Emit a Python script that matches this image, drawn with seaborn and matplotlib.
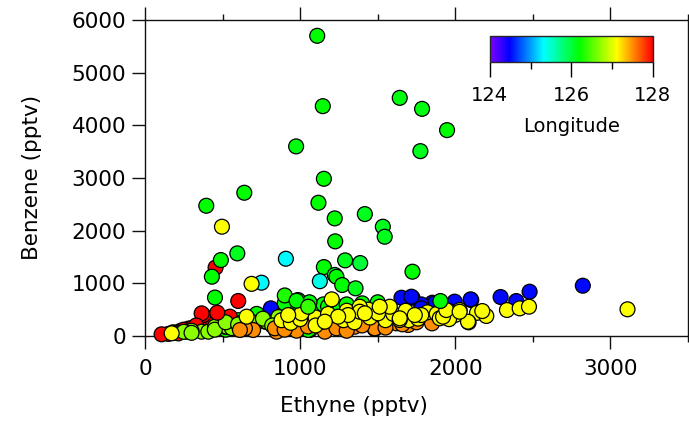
import numpy as np
import pandas as pd
import matplotlib
matplotlib.use("Agg")
import matplotlib.pyplot as plt
import seaborn as sns
from matplotlib.colors import LinearSegmentedColormap, Normalize
from matplotlib.cm import ScalarMappable
from matplotlib.ticker import MultipleLocator, FixedLocator

# ---- data: (ethyne pptv, benzene pptv), one list per colour ----
# low band, drawn first (underneath)
band_green = [(901, 398), (987, 683), (1062, 114), (1084, 461), (1052, 114), (420, 250),
              (480, 300), (550, 280), (700, 330), (850, 450), (350, 180), (600, 300),
              (800, 380), (950, 550), (1000, 480), (1120, 520), (1150, 600), (1180, 560),
              (1260, 550), (1300, 600), (1400, 620), (1500, 640), (1060, 640), (900, 620),
              (720, 420), (780, 300), (960, 350), (1030, 250), (640, 180), (520, 120)]
band_blue = [(2822, 955), (2479, 841), (2292, 740), (2393, 664), (2103, 683), (1992, 632),
             (1852, 632), (1653, 727), (1724, 727), (1996, 652), (2099, 696), (1867, 620),
             (1781, 600), (811, 525), (1717, 746), (1781, 525)]
band_red = [(150, 40), (180, 70), (230, 100), (280, 140), (320, 120), (400, 230), (440, 260),
            (500, 330), (376, 398), (365, 430), (547, 367), (300, 150), (330, 200), (250, 120),
            (107, 32), (204, 63), (268, 82), (215, 50)]
band_yelgreen = [(365, 82), (408, 82), (451, 177), (515, 177), (526, 177), (708, 241),
                 (773, 272), (784, 272), (300, 100), (560, 150), (250, 80), (300, 60),
                 (620, 250), (680, 280), (860, 360), (1180, 250), (1050, 380), (1846, 317),
                 (450, 120), (520, 260), (600, 220), (760, 330), (820, 200)]
band_orange = [(1481, 133), (1696, 209), (1620, 241), (1245, 177), (1159, 82), (1659, 222),
               (1481, 146), (1352, 177), (1234, 146), (1148, 272), (977, 101), (848, 82),
               (697, 114), (644, 146), (612, 114), (837, 146), (900, 120), (1050, 180),
               (1300, 100), (1400, 200), (1550, 160), (1750, 260), (1850, 240)]
band_yellow = [(880, 300), (940, 250), (1000, 320), (1100, 350), (1180, 420), (1280, 300),
               (1350, 260), (1450, 350), (1550, 300), (1600, 420), (1700, 300), (1820, 450),
               (1880, 420), (2000, 400), (2140, 440), (2200, 380), (1100, 200), (1300, 480),
               (1440, 500), (1680, 480), (1760, 330),
               (3110, 507), (2333, 493), (2415, 525), (2475, 557), (2174, 474), (2086, 259),
               (1960, 474), (2028, 493), (1900, 336), (1960, 320), (1781, 398), (1921, 367),
               (2082, 272), (1942, 493), (2028, 461), (1642, 304), (1739, 398), (1642, 336),
               (1578, 556), (1502, 430), (1384, 556), (1513, 556), (1384, 461), (1417, 430),
               (1309, 398), (1245, 367), (1159, 272), (1009, 430), (923, 398), (655, 367),
               (172, 51), (1204, 696)]
band_green_top = [(1904, 664)]

# scattered high points
high_ethyne = [1110, 1146, 1642, 1786, 1947, 974, 1775, 1153, 640, 395, 1118, 1417, 1223,
               1533, 1545, 496, 1226, 595, 455, 489, 908, 1290, 1387, 1153, 1724, 431,
               1223, 1234, 1127, 1271, 1357, 751, 687, 451, 601, 466, 901, 977, 1052]
high_benzene = [5700, 4364, 4522, 4313, 3909, 3600, 3510, 2985, 2720, 2473, 2530, 2315, 2233,
                2075, 1885, 2075, 1797, 1569, 1300, 1442, 1467, 1436, 1385, 1309, 1221, 1126,
                1160, 1125, 1040, 968, 905, 1012, 990, 730, 665, 442, 770, 670, 556]
high_lon = [126.2, 126.2, 126.15, 126.15, 126.2, 126.15, 126.1, 126.2, 126.2, 126.2, 126.2,
            126.1, 126.2, 126.1, 126.1, 127.1, 126.2, 126.1, 128.0, 126.2, 125.3, 126.1,
            126.0, 126.2, 126.2, 126.2, 126.1, 126.2, 125.4, 126.2, 126.1, 125.3, 127.1,
            126.2, 128.0, 128.0, 126.3, 126.2, 126.4]

groups = [(band_green, 126.2), (band_blue, 124.5), (band_red, 128.0), (band_yelgreen, 126.7),
          (band_orange, 127.5), (band_yellow, 127.1), (band_green_top, 126.2)]

rows = []
for pts, lon in groups:
    for e, b in pts:
        rows.append((e, b, lon))
for e, b, lon in zip(high_ethyne, high_benzene, high_lon):
    rows.append((e, b, lon))
df = pd.DataFrame(rows, columns=["Ethyne", "Benzene", "Longitude"])

# rainbow like the original (violet -> red)
cmap = LinearSegmentedColormap.from_list("lonrainbow", [
    (0.00, (0.50, 0.0, 1.0)),
    (0.12, (0.0, 0.0, 1.0)),
    (0.33, (0.0, 1.0, 1.0)),
    (0.55, (0.0, 1.0, 0.0)),
    (0.78, (1.0, 1.0, 0.0)),
    (1.00, (1.0, 0.0, 0.0))])
norm = Normalize(124, 128)

sns.set_style("white")
plt.rcParams["font.family"] = ["DejaVu Sans"]
plt.rcParams["text.color"] = "black"
plt.rcParams["axes.labelcolor"] = "black"
plt.rcParams["xtick.color"] = "black"
plt.rcParams["ytick.color"] = "black"

fig = plt.figure(figsize=(6.89, 4.23), dpi=100)
ax = fig.add_axes([145 / 689, 87 / 423, 543 / 689, 316 / 423])

sns.scatterplot(data=df, x="Ethyne", y="Benzene", hue="Longitude", palette=cmap,
                hue_norm=norm, s=115, edgecolor="black", linewidth=0.9, legend=False,
                ax=ax, clip_on=False, zorder=3)

ax.set_xlim(0, 3500)
ax.set_ylim(0, 6000)
ax.xaxis.set_major_locator(FixedLocator([0, 1000, 2000, 3000]))
ax.xaxis.set_minor_locator(MultipleLocator(500))
ax.yaxis.set_major_locator(MultipleLocator(1000))
for sp in ax.spines.values():
    sp.set_linewidth(1.0)
    sp.set_color("#111111")
ax.tick_params(axis="x", which="both", direction="out", top=True, bottom=True,
               color="#111111", width=1.0, labelsize=15.5, pad=7)
ax.tick_params(axis="x", which="major", length=9.5)
ax.tick_params(axis="x", which="minor", length=4.5)
ax.tick_params(axis="y", which="major", direction="out", left=True, right=False,
               length=9.5, color="#111111", width=1.0, labelsize=15.5, pad=4)
ax.set_xlabel("Ethyne (pptv)", fontsize=15.5)
ax.set_ylabel("Benzene (pptv)", fontsize=15.5)
ax.xaxis.set_label_coords(0.385, -0.19)
ax.yaxis.set_label_coords(-0.19, 0.503)

# colour scale inset
cax = ax.inset_axes([0.635, 0.867, 0.300, 0.082])
sm = ScalarMappable(norm=norm, cmap=cmap)
cb = fig.colorbar(sm, cax=cax, orientation="horizontal")
cb.set_ticks([124, 126, 128])
cb.ax.xaxis.set_minor_locator(FixedLocator([125, 127]))
cb.outline.set_linewidth(1.0)
cb.ax.tick_params(which="major", length=11, width=1.0, labelsize=14, pad=6)
cb.ax.tick_params(which="minor", length=5, width=1.0)
cb.set_label("Longitude", fontsize=14, labelpad=9)

fig.savefig("out.png", dpi=100)
